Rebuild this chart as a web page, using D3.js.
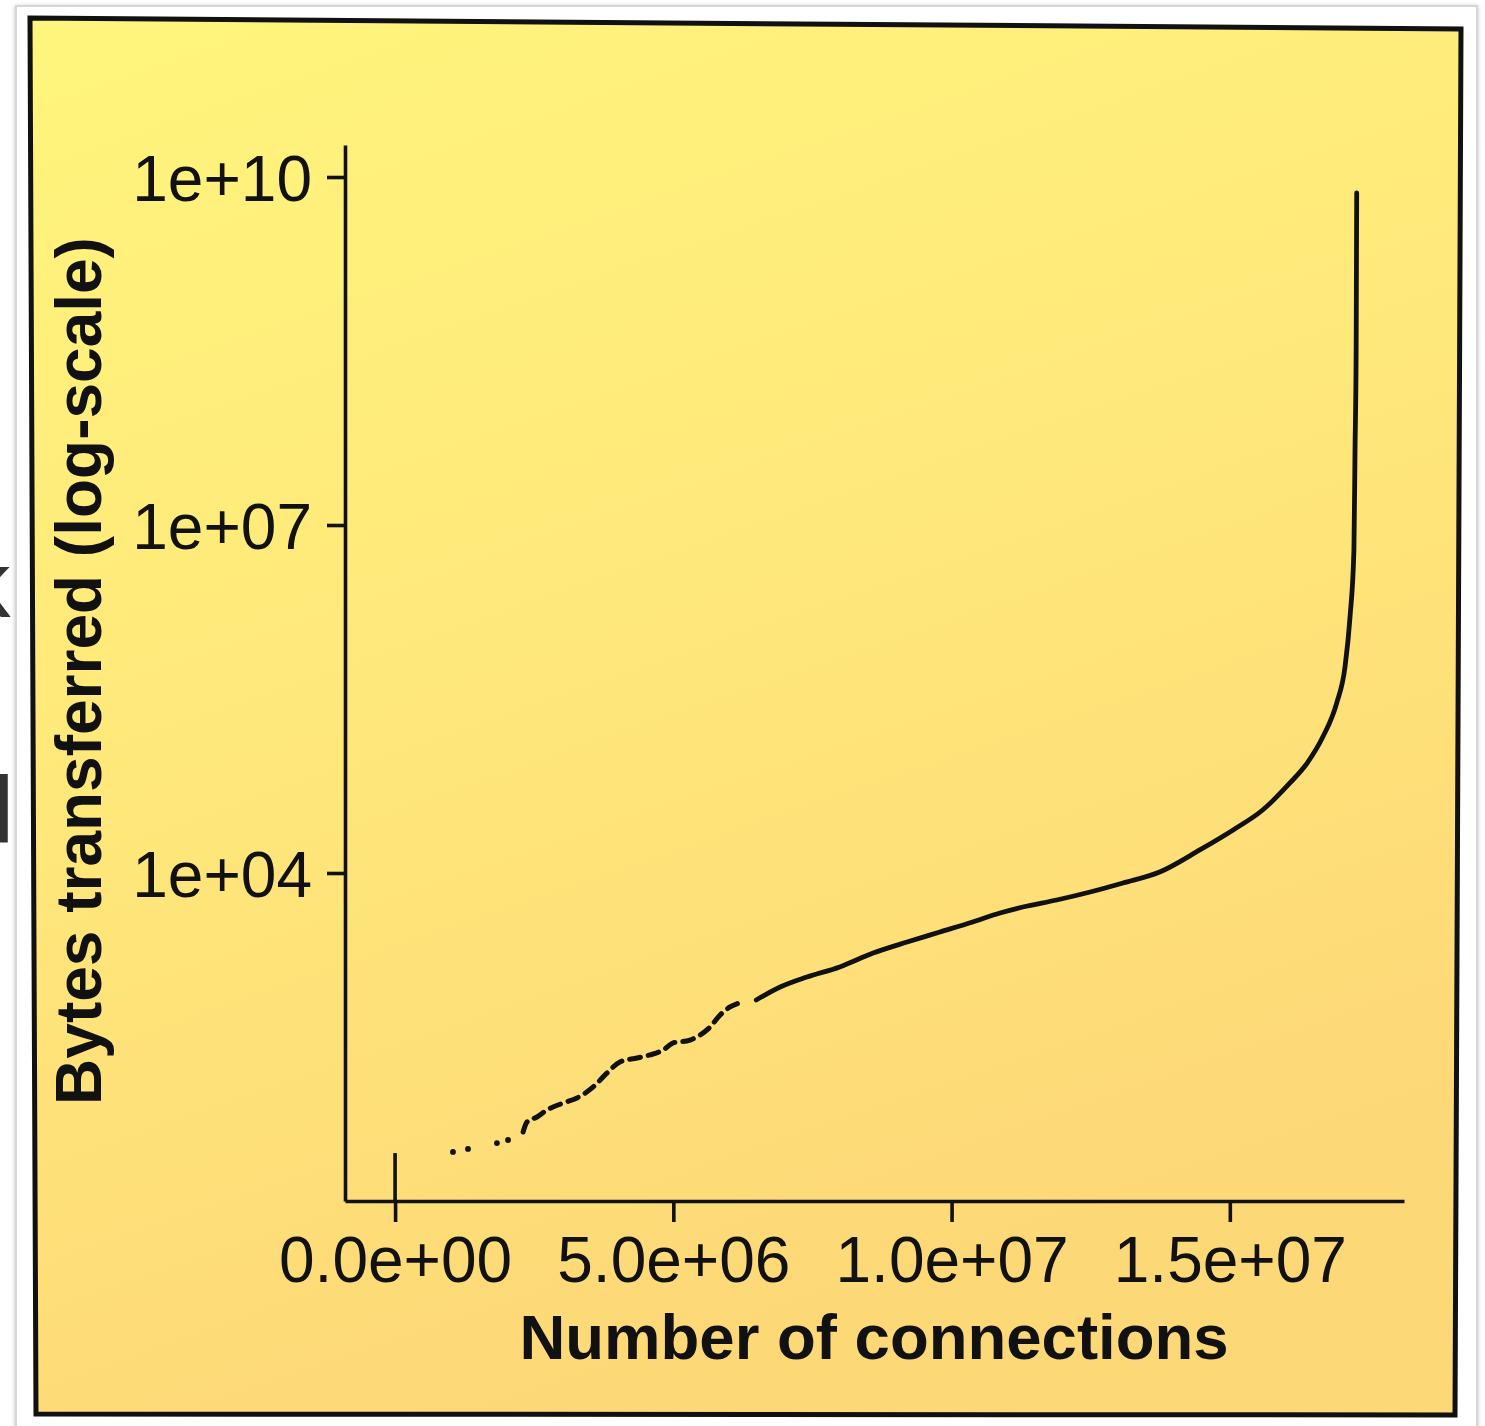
<!DOCTYPE html>
<html>
<head>
<meta charset="utf-8">
<script src="https://cdn.jsdelivr.net/npm/d3@7"></script>
<style>
  html, body { margin: 0; padding: 0; background: #ffffff; }
  svg { display: block; }
  text { font-family: "Liberation Sans", Arial, Helvetica, sans-serif; }
</style>
</head>
<body>
<svg id="chart" width="1485" height="1426"></svg>
<script>
// ---------------- DATA ----------------
// Axis ticks
const xTickValues = [0, 5e6, 1e7, 1.5e7];
const xTickLabels = ["0.0e+00", "5.0e+06", "1.0e+07", "1.5e+07"];
const yTickValues = [1e4, 1e7, 1e10];
const yTickLabels = ["1e+04", "1e+07", "1e+10"];

// Spike at the origin tick
const spikeX = [0];
const spikeY = [38.5];

// Isolated sparse points (connections rank, bytes)
const dotX = [1.04e6, 1.31e6, 1.83e6, 2.03e6];
const dotY = [39.4, 41.8, 47.0, 49.9];

// Sparse, dash-like stretch of points
const sparseX = [2.30e6, 2.37e6, 2.55e6, 2.73e6, 3.02e6, 3.27e6, 3.56e6, 3.81e6, 4.04e6,
                 4.35e6, 4.58e6, 4.82e6, 4.99e6, 5.30e6, 5.48e6, 5.66e6, 5.84e6, 6.02e6, 6.25e6];
const sparseY = [58.5, 71.3, 78.8, 90.6, 104, 115, 143, 189, 235,
                 254, 270, 298, 342, 363, 401, 470, 597, 700, 773];

// Dense part (drawn as a continuous curve)
const denseX = [6.49e6, 6.92e6, 7.40e6, 7.99e6, 8.59e6, 9.20e6, 9.79e6, 10.38e6, 10.87e6,
                11.28e6, 11.89e6, 12.49e6, 13.08e6, 13.74e6, 14.46e6, 15.06e6, 15.59e6,
                16.08e6, 16.39e6, 16.67e6, 16.92e6, 17.07e6, 17.16e6, 17.23e6, 17.25e6,
                17.27e6, 17.28e6];
const denseY = [804, 1040, 1268, 1549, 2042, 2541, 3100, 3785, 4520,
                5090, 5848, 6855, 8200, 10200, 15800, 23500, 34900,
                59700, 88700, 148600, 292000, 597000, 1.61e6, 6.08e6, 4.43e7,
                3.23e8, 7.28e9];

const xTitle = "Number of connections";
const yTitle = "Bytes transferred (log-scale)";

// ---------------- DRAWING ----------------
const svg = d3.select("#chart");
const defs = svg.append("defs");

const grad = defs.append("linearGradient")
  .attr("id", "bg").attr("x1", "0").attr("y1", "0").attr("x2", "0.35").attr("y2", "1");
grad.append("stop").attr("offset", "0").attr("stop-color", "#fff57c");
grad.append("stop").attr("offset", "0.5").attr("stop-color", "#ffe87a");
grad.append("stop").attr("offset", "1").attr("stop-color", "#fdd877");

const shadow = defs.append("filter").attr("id", "shadow")
  .attr("x", "-5%").attr("y", "-5%").attr("width", "110%").attr("height", "110%");
shadow.append("feDropShadow").attr("dx", 0).attr("dy", 1).attr("stdDeviation", 2)
  .attr("flood-color", "#000").attr("flood-opacity", 0.25);

// fragments of slide text peeking out behind the card
svg.append("text").attr("x", -37).attr("y", 617).attr("font-size", 95)
  .attr("fill", "#333").text("k");
svg.append("text").attr("x", -7).attr("y", 843).attr("font-size", 95)
  .attr("fill", "#333").text("l");

// white card
svg.append("rect").attr("x", 16).attr("y", 6).attr("width", 1461).attr("height", 1440)
  .attr("fill", "#ffffff").attr("stroke", "#d6d6d6").attr("stroke-width", 2)
  .attr("filter", "url(#shadow)");

// yellow panel (slightly skewed in the photo)
svg.append("path")
  .attr("d", "M30,18 L1461,29 L1455,1415 L36,1414 Z")
  .attr("fill", "url(#bg)").attr("stroke", "#111").attr("stroke-width", 5)
  .attr("stroke-linejoin", "miter");

const x = d3.scaleLinear().domain([-0.9e6, 18.13e6]).range([345, 1404]);
const y = d3.scaleLog().domain([14.87, 1.888e10]).range([1201, 145]);

const g = svg.append("g");

// axes (L-shaped box formed by the two domain lines)
const yAxis = d3.axisLeft(y).tickValues(yTickValues)
  .tickFormat((d, i) => yTickLabels[i]).tickSize(18).tickSizeOuter(0).tickPadding(15);
const gy = g.append("g").attr("transform", "translate(345,0)").call(yAxis);

const xAxis = d3.axisBottom(x).tickValues(xTickValues)
  .tickFormat((d, i) => xTickLabels[i]).tickSize(21).tickSizeOuter(0).tickPadding(15);
const gx = g.append("g").attr("transform", "translate(0,1201)").call(xAxis);

[gx, gy].forEach(a => {
  a.select(".domain").attr("stroke", "#111").attr("stroke-width", 3.6);
  a.selectAll(".tick line").attr("stroke", "#111").attr("stroke-width", 3.6);
  a.selectAll(".tick text").attr("fill", "#111").attr("font-size", 64)
    .attr("font-family", "'Liberation Sans', Arial, sans-serif");
});
gy.selectAll(".tick text").attr("dy", "0.37em");

// titles
g.append("text").attr("x", 874).attr("y", 1359).attr("text-anchor", "middle")
  .attr("font-size", 63.5).attr("font-weight", "bold").attr("fill", "#111").text(xTitle);
g.append("text").attr("transform", "translate(101,671) rotate(-90)")
  .attr("text-anchor", "middle").attr("font-size", 64).attr("font-weight", "bold")
  .attr("fill", "#111").text(yTitle);

// data
const spikes = spikeX.map((v, i) => [v, spikeY[i]]);
g.selectAll("line.spike").data(spikes).join("line").attr("class", "spike")
  .attr("x1", d => x(d[0])).attr("x2", d => x(d[0]))
  .attr("y1", d => y(d[1])).attr("y2", y.range()[0])
  .attr("stroke", "#111").attr("stroke-width", 3.6);

const dots = dotX.map((v, i) => [v, dotY[i]]);
g.selectAll("circle.dot").data(dots).join("circle").attr("class", "dot")
  .attr("cx", d => x(d[0])).attr("cy", d => y(d[1])).attr("r", 2.9).attr("fill", "#111");

const line = d3.line().x(d => x(d[0])).y(d => y(d[1])).curve(d3.curveMonotoneX);

const sparse = sparseX.map((v, i) => [v, sparseY[i]]);
g.append("path").datum(sparse).attr("d", line)
  .attr("fill", "none").attr("stroke", "#111").attr("stroke-width", 5)
  .attr("stroke-linecap", "round").attr("stroke-dasharray", "11,8");

const dense = denseX.map((v, i) => [v, denseY[i]]);
g.append("path").datum(dense).attr("d", line)
  .attr("fill", "none").attr("stroke", "#111").attr("stroke-width", 4.8)
  .attr("stroke-linecap", "round").attr("stroke-linejoin", "round");
</script>
</body>
</html>
